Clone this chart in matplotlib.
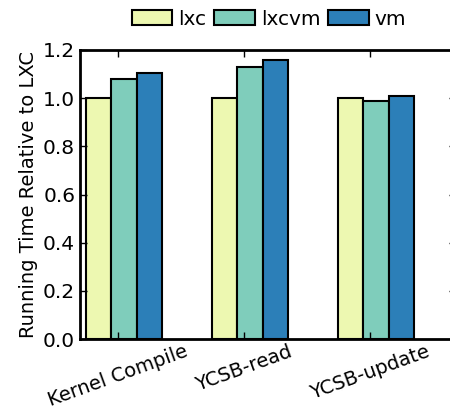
import matplotlib
matplotlib.use("Agg")
import matplotlib.pyplot as plt
import numpy as np

categories = ["Kernel Compile", "YCSB-read", "YCSB-update"]
series = ["lxc", "lxcvm", "vm"]
lxc = [1.0, 1.0, 1.0]
lxcvm = [1.08, 1.13, 0.99]
vm = [1.106, 1.16, 1.009]
colors = ["#edf8b1", "#7fcdbb", "#2c7fb8"]
yticks = [0.0, 0.2, 0.4, 0.6, 0.8, 1.0, 1.2]

fig = plt.figure(figsize=(4.5, 4.13), dpi=100)
ax = fig.add_axes([0.178, 0.179, 0.835, 0.700])

x = np.arange(len(categories))
w = 0.2
for k, (name, vals) in enumerate(zip(series, [lxc, lxcvm, vm])):
    ax.bar(x + k * w, vals, width=w, align="edge", color=colors[k],
           edgecolor="black", linewidth=1.5, label=name)

ax.set_xlim(-0.048, 2.934)
ax.set_ylim(0, 1.2)
ax.set_yticks(yticks)
ax.set_yticklabels([f"{t:.1f}" for t in yticks], fontsize=14.5)
ax.set_xticks(x + 0.25)
ax.set_xticklabels(categories, rotation=20, ha="center", fontsize=14)
ax.tick_params(direction="in", top=True, right=True, length=5, width=1)
ax.tick_params(axis="x", pad=2)
for name, s in ax.spines.items():
    s.set_linewidth(2)
ax.spines["right"].set_visible(False)
ax.set_ylabel("Running Time Relative to LXC", fontsize=14, labelpad=4)

leg = fig.legend(loc="upper center", bbox_to_anchor=(0.598, 1.02), ncol=3,
                 frameon=False, fontsize=14.5, handlelength=2.0, handleheight=0.75,
                 handletextpad=0.3, columnspacing=0.4)

fig.savefig("out.png", dpi=100)
